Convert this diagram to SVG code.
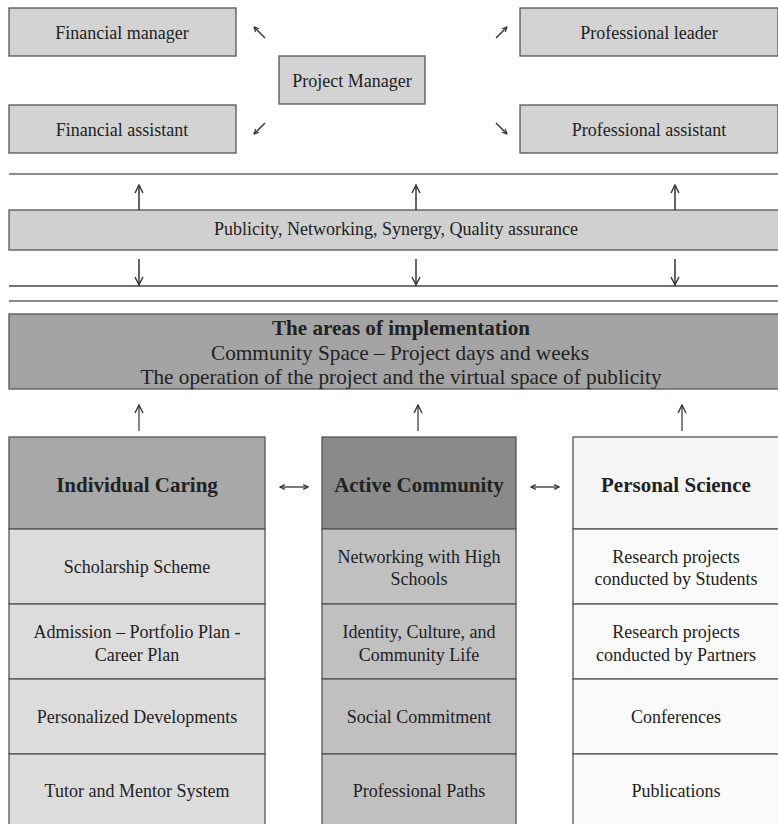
<svg xmlns="http://www.w3.org/2000/svg" width="778" height="824" viewBox="0 0 778 824">
<defs>
<marker id="ah" viewBox="0 0 10 10" refX="9" refY="5" markerWidth="10" markerHeight="10" markerUnits="userSpaceOnUse" orient="auto">
<path d="M1,1 L9,5 L1,9" fill="none" stroke="#333" stroke-width="1.4"/>
</marker>
<marker id="sh" viewBox="0 0 10 10" refX="9" refY="5" markerWidth="6" markerHeight="6" markerUnits="userSpaceOnUse" orient="auto-start-reverse">
<path d="M1,1 L9,5 L1,9" fill="none" stroke="#333" stroke-width="2"/>
</marker>
<style>
text{font-family:"Liberation Serif","Times New Roman",serif;fill:#222;text-anchor:middle;dominant-baseline:central}
.t{font-size:18px}
.h{font-size:21px;font-weight:bold}
.b{font-size:21px;dominant-baseline:alphabetic}
rect{stroke:#555;stroke-width:1.3}
.box{fill:#d3d3d3}
.hl{stroke:#444;stroke-width:1.5}
.ar{stroke:#333;stroke-width:1.5;marker-end:url(#ah)}
.da{stroke:#333;stroke-width:1.4;marker-end:url(#sh)}
.lr{stroke:#333;stroke-width:1.3;marker-start:url(#sh);marker-end:url(#sh)}
</style>
</defs>
<rect width="778" height="824" fill="#fff" style="stroke:none"/>

<g id="financial-manager"><rect class="box" x="9" y="8" width="227" height="48"/><text class="t" x="122" y="33">Financial manager</text></g>
<g id="financial-assistant"><rect class="box" x="9" y="105" width="227" height="48"/><text class="t" x="122" y="130">Financial assistant</text></g>
<g id="project-manager"><rect class="box" x="279" y="56" width="146" height="48"/><text class="t" x="352" y="81">Project Manager</text></g>
<g id="professional-leader"><rect class="box" x="520" y="8" width="258" height="48"/><text class="t" x="649" y="33">Professional leader</text></g>
<g id="professional-assistant"><rect class="box" x="520" y="105" width="258" height="48"/><text class="t" x="649" y="130">Professional assistant</text></g>

<g id="publicity"><rect x="9" y="210" width="770" height="40" fill="#d0d0d0"/><text class="t" x="396" y="229">Publicity, Networking, Synergy, Quality assurance</text></g>

<g id="areas"><rect x="9" y="314" width="770" height="75" fill="#a4a4a4"/>
<text class="b" x="401" y="335" font-weight="bold" textLength="258" lengthAdjust="spacingAndGlyphs">The areas of implementation</text>
<text class="b" x="400" y="360" textLength="378" lengthAdjust="spacingAndGlyphs">Community Space – Project days and weeks</text>
<text class="b" x="401" y="384" textLength="521" lengthAdjust="spacingAndGlyphs">The operation of the project and the virtual space of publicity</text></g>

<g id="individual-caring">
<rect x="9" y="437" width="256" height="92" fill="#a8a8a8"/><text class="h" x="137" y="485">Individual Caring</text>
<rect x="9" y="529" width="256" height="75" fill="#dcdcdc"/><text class="t" x="137" y="567">Scholarship Scheme</text>
<rect x="9" y="604" width="256" height="75" fill="#dcdcdc"/><text class="t" x="137" y="632">Admission – Portfolio Plan -</text><text class="t" x="137" y="655">Career Plan</text>
<rect x="9" y="679" width="256" height="75" fill="#dcdcdc"/><text class="t" x="137" y="717">Personalized Developments</text>
<rect x="9" y="754" width="256" height="75" fill="#dcdcdc"/><text class="t" x="137" y="791">Tutor and Mentor System</text>
</g>
<g id="active-community">
<rect x="322" y="437" width="194" height="92" fill="#8a8a8a"/><text class="h" x="419" y="485">Active Community</text>
<rect x="322" y="529" width="194" height="75" fill="#c0c0c0"/><text class="t" x="419" y="557">Networking with High</text><text class="t" x="419" y="579">Schools</text>
<rect x="322" y="604" width="194" height="75" fill="#c0c0c0"/><text class="t" x="419" y="632">Identity, Culture, and</text><text class="t" x="419" y="655">Community Life</text>
<rect x="322" y="679" width="194" height="75" fill="#c0c0c0"/><text class="t" x="419" y="717">Social Commitment</text>
<rect x="322" y="754" width="194" height="75" fill="#c0c0c0"/><text class="t" x="419" y="791">Professional Paths</text>
</g>
<g id="personal-science">
<rect x="573" y="437" width="206" height="92" fill="#f5f5f5"/><text class="h" x="676" y="485">Personal Science</text>
<rect x="573" y="529" width="206" height="75" fill="#fafafa"/><text class="t" x="676" y="557">Research projects</text><text class="t" x="676" y="579">conducted by Students</text>
<rect x="573" y="604" width="206" height="75" fill="#fafafa"/><text class="t" x="676" y="632">Research projects</text><text class="t" x="676" y="655">conducted by Partners</text>
<rect x="573" y="679" width="206" height="75" fill="#fafafa"/><text class="t" x="676" y="717">Conferences</text>
<rect x="573" y="754" width="206" height="75" fill="#fafafa"/><text class="t" x="676" y="791">Publications</text>
</g>

<g id="connectors">
<line class="da" x1="265" y1="38" x2="254" y2="27"/>
<line class="da" x1="265" y1="123" x2="254" y2="134"/>
<line class="da" x1="496" y1="38" x2="507" y2="27"/>
<line class="da" x1="496" y1="123" x2="507" y2="134"/>
<line class="hl" x1="9" y1="174" x2="778" y2="174" style="stroke:#666"/>
<line class="hl" x1="9" y1="286" x2="778" y2="286"/>
<line class="hl" x1="9" y1="301" x2="778" y2="301" style="stroke:#666"/>
<line class="ar" x1="139" y1="210" x2="139" y2="185"/>
<line class="ar" x1="416" y1="210" x2="416" y2="185"/>
<line class="ar" x1="675" y1="210" x2="675" y2="185"/>
<line class="ar" x1="139" y1="259" x2="139" y2="285"/>
<line class="ar" x1="416" y1="259" x2="416" y2="285"/>
<line class="ar" x1="675" y1="259" x2="675" y2="285"/>
<line class="ar" x1="139" y1="431" x2="139" y2="405" style="stroke-width:1.2"/>
<line class="ar" x1="418" y1="431" x2="418" y2="405" style="stroke-width:1.2"/>
<line class="ar" x1="682" y1="431" x2="682" y2="405" style="stroke-width:1.2"/>
<line class="lr" x1="280" y1="487" x2="308" y2="487"/>
<line class="lr" x1="531" y1="487" x2="559" y2="487"/>
</g>
</svg>
